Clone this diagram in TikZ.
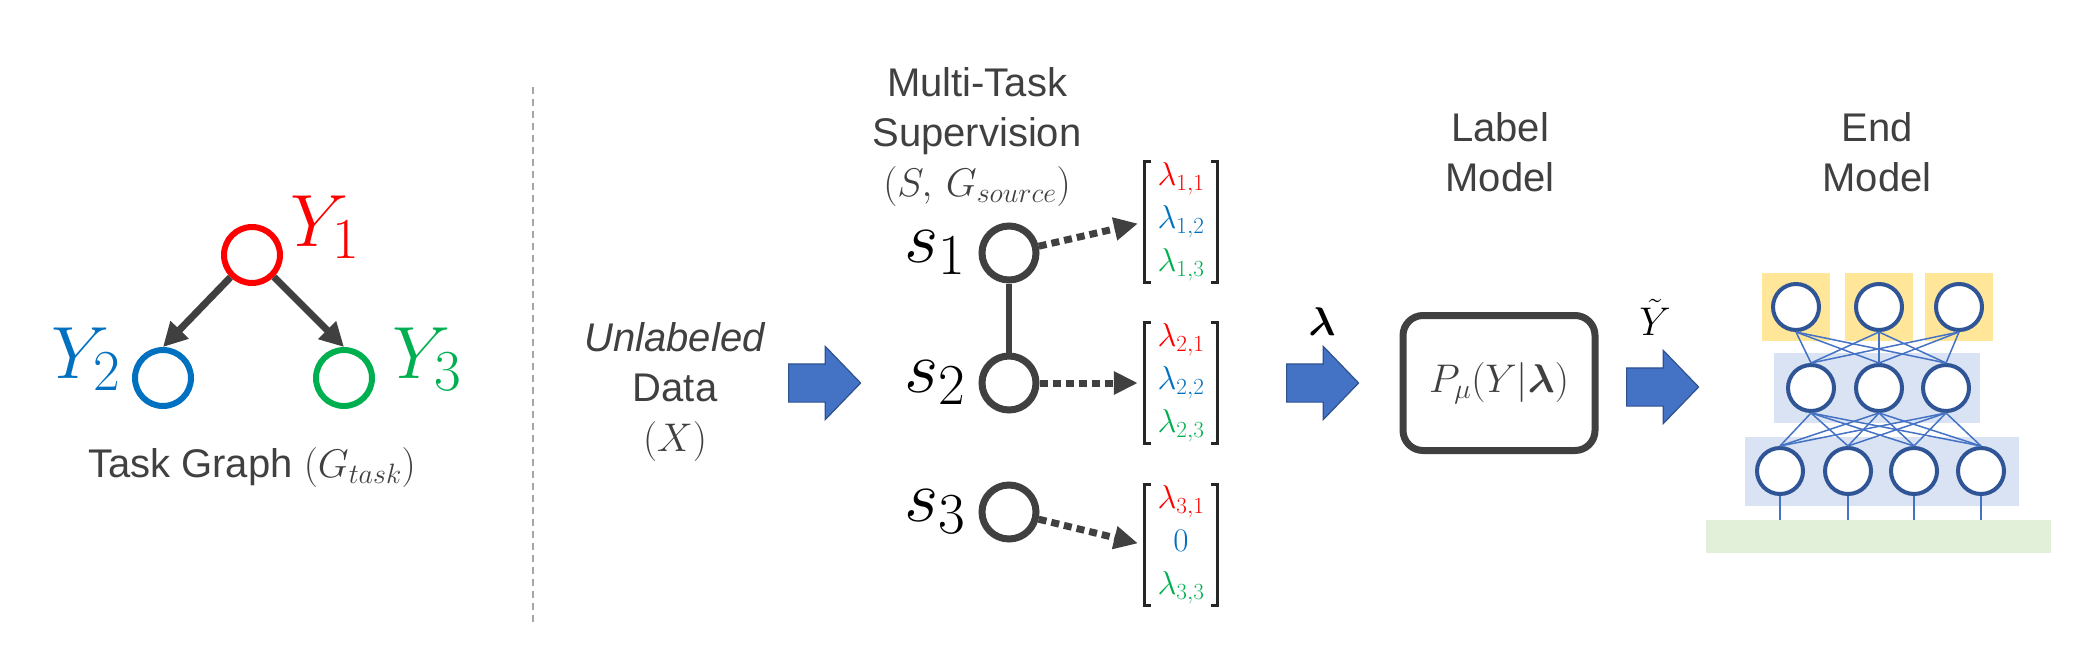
\RequirePackage{fix-cm}
\documentclass[tikz,border=0pt]{standalone}
\usepackage{amsmath,amssymb}
\usepackage[no-math]{fontspec}
\setmainfont{Liberation Sans}
\usepackage{xcolor}
\usetikzlibrary{shapes,arrows.meta,positioning,calc}

\definecolor{tred}{HTML}{FF0000}
\definecolor{tblue}{HTML}{0070C0}
\definecolor{tgreen}{HTML}{00B050}
\definecolor{dgray}{HTML}{404040}
\definecolor{arrfill}{HTML}{4472C4}
\definecolor{arrline}{HTML}{2F528F}
\definecolor{nnedge}{HTML}{2F5597}
\definecolor{nnwire}{HTML}{4472C4}
\definecolor{nnbox}{HTML}{DAE3F3}
\definecolor{nnout}{HTML}{FFE699}
\definecolor{nnin}{HTML}{E2F0D9}
\definecolor{sepgray}{HTML}{A6A6A6}

\DeclareMathSizes{74}{74}{58}{44}
\newcommand{\headfont}{\fontsize{40}{50}\selectfont}
\newcommand{\varfont}{\fontsize{74}{80}\selectfont}
\newcommand{\vecfont}{\fontsize{33}{43}\selectfont}

\begin{document}
\begin{tikzpicture}[x=1pt, y=-1pt,
        task/.style={circle, draw, line width=6pt, minimum size=56pt, inner sep=0pt},
        src/.style={circle, draw=dgray, line width=7pt, minimum size=54pt, inner sep=0pt},
        varlab/.style={inner sep=1pt, font=\varfont},
        heading/.style={align=center, text=dgray, font=\headfont, inner sep=0pt},
        vec/.style={align=center, font=\vecfont, minimum width=72pt, minimum height=121pt, inner sep=0pt},
        brk/.style={line width=3pt, black!85},
        bigarr/.style={single arrow, fill=arrfill, draw=arrline, line width=1.2pt, minimum height=72pt, inner ysep=18.5pt, inner xsep=0pt, single arrow head extend=17.5pt, single arrow tip angle=92, anchor=tail},
        arr/.style={-{Triangle[length=24pt,width=24pt]}, line width=7pt, dgray},
        dotarr/.style={-{Triangle[length=24pt,width=22pt]}, line width=7pt, dgray, dash pattern=on 8pt off 5pt, shorten >=7pt},
        neuron/.style={circle, draw=nnedge, fill=white, line width=4pt, minimum size=46pt, inner sep=0pt},
        wire/.style={nnwire, line width=1.5pt}
    ]
        \useasboundingbox (0,0) rectangle (2090,656);

        % Task graph
        \node[task, draw=tred] (y1) at (252,255) {};
        \node[task, draw=tblue] (y2) at (163,378) {};
        \node[task, draw=tgreen] (y3) at (344,378) {};
        \node[varlab, text=tred, right=6pt of y1, yshift=28pt] {$Y_1$};
        \node[varlab, text=tblue, left=10pt of y2, yshift=19pt] {$Y_2$};
        \node[varlab, text=tgreen, right=16pt of y3, yshift=19pt] {$Y_3$};
        \draw[arr] (y1) -- (y2.north);
        \draw[arr] (y1) -- (y3.north);
        \node[heading] (tg) at (252,467) {Task Graph $(G_{task})$};

        % Separator
        \draw[sepgray, line width=2.5pt, dash pattern=on 7pt off 5pt] (533,87) -- (533,622);

        % Unlabeled data
        \node[heading] (data) at (675,392) {\textit{Unlabeled}\\Data\\$(X)$};
        \node[bigarr] (a1) at (788,383) {};

        % Supervision sources
        \node[heading] (sup) at (977,137) {Multi-Task\\Supervision\\$(S,\,G_{source})$};
        \node[src] (s1) at (1009,253) {};
        \node[src] (s2) at (1009,383) {};
        \node[src] (s3) at (1009,512) {};
        \foreach \i in {1,2,3}
            \node[varlab, left=12pt of s\i] {$s_\i$};
        \draw[dgray, line width=6pt] (s1) -- (s2);

        % Label vectors
        \node[vec] (v1) at (1181,222) {$\color{tred}\lambda_{1,1}$\\$\color{tblue}\lambda_{1,2}$\\$\color{tgreen}\lambda_{1,3}$};
        \node[vec] (v2) at (1181,383) {$\color{tred}\lambda_{2,1}$\\$\color{tblue}\lambda_{2,2}$\\$\color{tgreen}\lambda_{2,3}$};
        \node[vec] (v3) at (1181,545) {$\color{tred}\lambda_{3,1}$\\$\color{tblue}0$\\$\color{tgreen}\lambda_{3,3}$};
        \foreach \v in {v1,v2,v3} {
            \draw[brk] ([xshift=6pt]\v.north west) -| (\v.south west) -- ++(6,0);
            \draw[brk] ([xshift=-6pt]\v.north east) -| (\v.south east) -- ++(-6,0);
        }
        \draw[dotarr] (s1) -- (v1.west);
        \draw[dotarr] (s2) -- (v2.west);
        \draw[dotarr] (s3) -- (v3.west);

        % Label model
        \node[bigarr] (a2) at (1286,383) {};
        \node[font=\headfont, inner sep=0pt] (lam) at (1322,322) {$\boldsymbol{\lambda}$};
        \node[heading] (lmcap) at (1500,152) {Label\\Model};
        \node[draw=dgray, line width=7pt, rounded corners=20pt, minimum width=192pt, minimum height=135pt, text=dgray, font=\headfont] (lm) at (1499,383) {$P_\mu(Y|\boldsymbol{\lambda})$};
        \node[bigarr] (a3) at (1626,387) {};
        \node[font=\headfont, inner sep=0pt] (yt) at (1655,317) {$\tilde{Y}$};

        % End model
        \node[heading] (emcap) at (1877,152) {End\\Model};
        \foreach \x in {1796,1879,1959}
            \fill[nnout] (\x-34,273) rectangle (\x+34,341);
        \fill[nnbox] (1774,353) rectangle (1980,423);
        \fill[nnbox] (1745,437) rectangle (2019,506);
        \fill[nnin] (1706,520) rectangle (2051,553);
        \foreach \x [count=\i] in {1796,1879,1959}
            \node[neuron] (o\i) at (\x,307) {};
        \foreach \x [count=\i] in {1811,1879,1946}
            \node[neuron] (h\i) at (\x,388) {};
        \foreach \x [count=\i] in {1780,1848,1914,1981} {
            \node[neuron] (b\i) at (\x,471) {};
            \coordinate (g\i) at (\x,520);
        }
        \foreach \i in {1,2,3}
            \foreach \j in {1,2,3}
                \draw[wire] (o\i.south) -- (h\j.north);
        \foreach \i in {1,2,3}
            \foreach \j in {1,2,3,4}
                \draw[wire] (h\i.south) -- (b\j.north);
        \foreach \i in {1,2,3,4}
            \draw[wire] (b\i.south) -- (g\i);
    \end{tikzpicture}
\end{document}
